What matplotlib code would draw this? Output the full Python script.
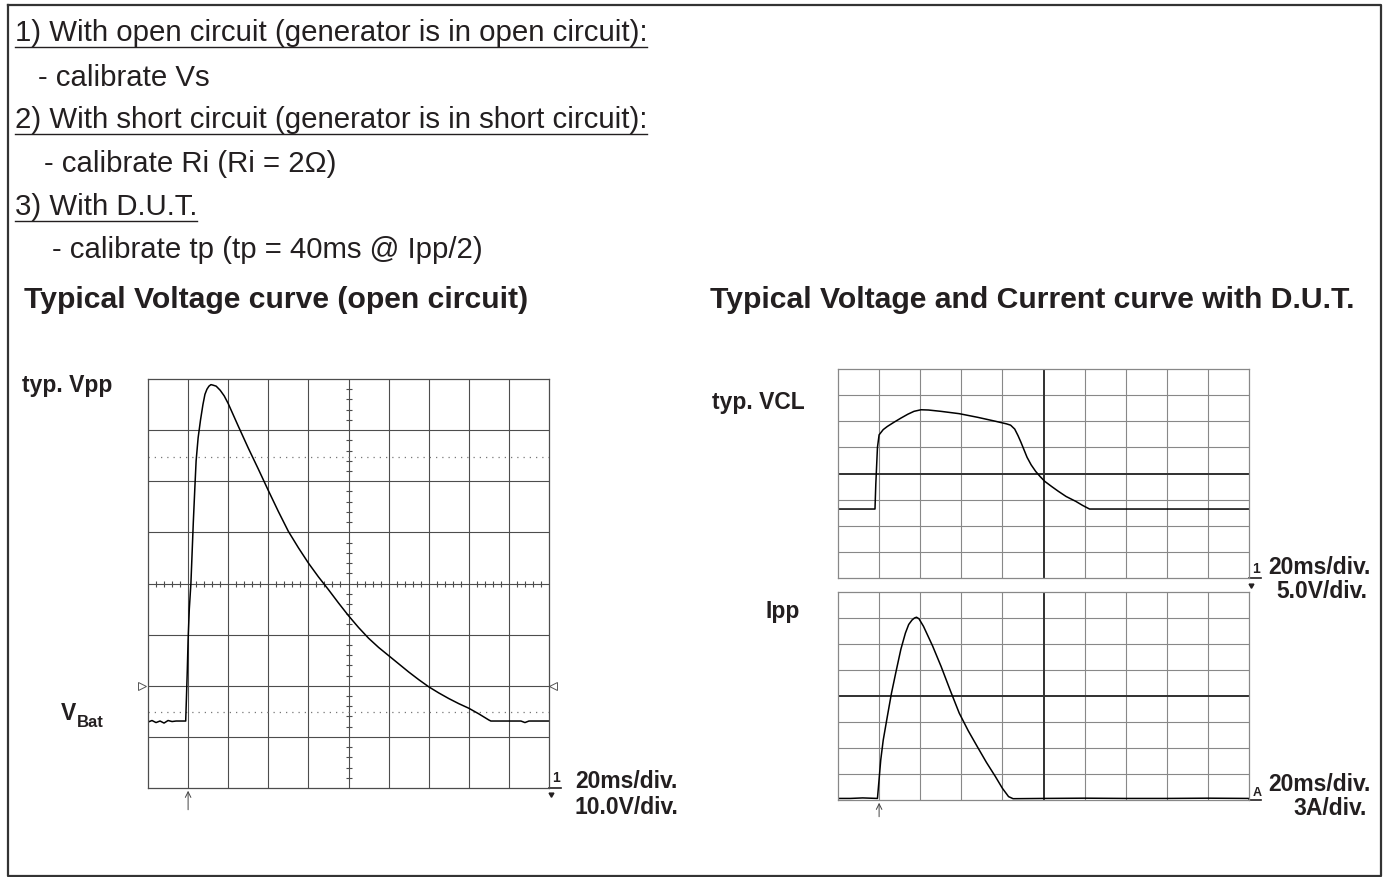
import matplotlib
matplotlib.use('Agg')
import matplotlib.pyplot as plt
import numpy as np

plt.rcParams['font.family'] = ['Liberation Sans', 'DejaVu Sans']

# open circuit voltage trace, x in divisions (20ms/div), y in divisions (10V/div)
vpp_t = [0, 0.1, 0.2, 0.3, 0.4, 0.5, 0.6, 0.7, 0.8, 0.94, 0.96, 0.98, 1.0, 1.03, 1.07,
         1.1, 1.13, 1.17, 1.2, 1.25, 1.31, 1.37, 1.42, 1.47, 1.52, 1.57, 1.62, 1.7, 1.8,
         1.9, 2.0, 2.25, 2.5, 2.75, 3.0, 3.25, 3.5, 3.75, 4.0, 4.25, 4.5, 4.75, 5.0, 5.25,
         5.5, 5.75, 6.0, 6.25, 6.5, 6.75, 7.0, 7.25, 7.5, 7.75, 8.0, 8.25, 8.5, 8.55,
         9.0, 9.3, 9.4, 9.5, 10]
vpp_v = [1.29, 1.32, 1.28, 1.31, 1.27, 1.32, 1.30, 1.31, 1.31, 1.31, 1.8, 2.3, 2.9, 3.5, 4.0,
         4.6, 5.2, 5.9, 6.4, 6.85, 7.2, 7.5, 7.7, 7.8, 7.86, 7.89, 7.88, 7.86, 7.78,
         7.67, 7.52, 7.08, 6.65, 6.24, 5.82, 5.41, 5.02, 4.7, 4.4, 4.13, 3.88, 3.62, 3.37, 3.14,
         2.93, 2.75, 2.59, 2.43, 2.27, 2.12, 1.98, 1.86, 1.75, 1.65, 1.56, 1.45, 1.33, 1.31,
         1.31, 1.31, 1.28, 1.31, 1.31]

# clamping voltage with D.U.T. (5V/div)
vcl_t = [0, 0.3, 0.6, 0.9, 0.92, 0.96, 1.0, 1.1, 1.2, 1.35, 1.53, 1.7, 1.85, 2.02, 2.2,
         2.5, 2.95, 3.4, 3.83, 4.1, 4.2, 4.3, 4.38, 4.45, 4.52, 4.6, 4.7, 4.81, 4.92,
         5.03, 5.2, 5.36, 5.55, 5.79, 5.95, 6.12, 7, 8, 9, 10]
vcl_v = [2.64, 2.64, 2.64, 2.64, 3.6, 5.0, 5.48, 5.68, 5.8, 5.95, 6.12, 6.27, 6.38, 6.44, 6.43,
         6.38, 6.29, 6.15, 6.0, 5.9, 5.85, 5.7, 5.45, 5.2, 4.93, 4.62, 4.33, 4.08, 3.88,
         3.7, 3.5, 3.32, 3.12, 2.93, 2.78, 2.64, 2.64, 2.64, 2.64, 2.64]

# current with D.U.T. (3A/div)
ipp_t = [0, 0.3, 0.6, 0.96, 1.0, 1.04, 1.1, 1.2, 1.3, 1.42, 1.53, 1.64, 1.72, 1.8, 1.86,
         1.91, 1.97, 2.08, 2.3, 2.51, 2.73, 2.95, 3.17, 3.39, 3.61, 3.83, 4.0, 4.15, 4.26,
         5, 6, 7, 8, 9, 10]
ipp_i = [0.06, 0.06, 0.08, 0.06, 0.8, 1.54, 2.3, 3.21, 4.1, 5.0, 5.8, 6.42, 6.75, 6.92, 7.0,
         7.03, 6.97, 6.68, 5.93, 5.13, 4.22, 3.34, 2.66, 2.05, 1.45, 0.9, 0.45, 0.13, 0.05,
         0.06, 0.07, 0.06, 0.06, 0.07, 0.06]

steps = ['1) With open circuit (generator is in open circuit):',
         '- calibrate Vs',
         '2) With short circuit (generator is in short circuit):',
         '- calibrate Ri (Ri = 2\u03a9)',
         '3) With D.U.T.',
         '- calibrate tp (tp = 40ms @ Ipp/2)']

ink = '#231f20'

fig = plt.figure(figsize=(13.88, 8.77), dpi=100)
bg = fig.add_axes([0, 0, 1, 1])
bg.set_xlim(0, 1388)
bg.set_ylim(877, 0)
bg.axis('off')

# frame
bg.plot([8, 1381, 1381, 8, 8], [5, 5, 876, 876, 5], color='#333333', lw=1.6)

# instructions
step_pos = [(15, 41, True), (38, 86, False), (15, 128, True),
            (44, 172, False), (15, 215, True), (52, 258, False)]
step_txt = []
for s, (x, y, ul) in zip(steps, step_pos):
    t = bg.text(x, y, s, fontsize=21.2, color=ink, va='baseline')
    step_txt.append((t, y, ul))

bg.text(24, 308, 'Typical Voltage curve (open circuit)', fontsize=21.7, weight='bold',
        color=ink, va='baseline')
bg.text(710, 308, 'Typical Voltage and Current curve with D.U.T.', fontsize=21.7,
        weight='bold', color=ink, va='baseline')

lab = dict(fontsize=16.5, weight='bold', color=ink, va='baseline')
bg.text(22, 392, 'typ. Vpp', **lab)
bg.text(61, 720, 'V', **lab)
bg.text(77, 727, 'Bat', fontsize=12, weight='bold', color=ink, va='baseline')
bg.text(575, 788, '20ms/div.', **lab)
bg.text(678, 814, '10.0V/div.', ha='right', **lab)
bg.text(712, 409, 'typ. VCL', **lab)
bg.text(800, 618, 'Ipp', ha='right', **lab)
bg.text(1268, 574, '20ms/div.', **lab)
bg.text(1367, 598, '5.0V/div.', ha='right', **lab)
bg.text(1268, 791, '20ms/div.', **lab)
bg.text(1367, 815, '3A/div.', ha='right', **lab)


def scope(rect, grid, center_lw, minor=False):
    ax = fig.add_axes(rect)
    ax.set_xlim(0, 10)
    ax.set_ylim(0, 8)
    ax.set_xticks([])
    ax.set_yticks([])
    for sp in ax.spines.values():
        sp.set_color(grid)
        sp.set_linewidth(0.9)
    for x in range(1, 10):
        ax.axvline(x, color=grid, lw=center_lw if x == 5 else 0.8)
    for y in range(1, 8):
        ax.axhline(y, color=grid, lw=center_lw if y == 4 else 0.8)
    if minor:
        xs = [v for v in np.arange(0.2, 10, 0.2) if abs(v - round(v)) > 0.05]
        ys = [v for v in np.arange(0.2, 8, 0.2) if abs(v - round(v)) > 0.05]
        ax.plot(xs, [4] * len(xs), ls='none', marker='|', ms=5, mew=0.8, color=grid)
        ax.plot([5] * len(ys), ys, ls='none', marker='_', ms=5, mew=0.8, color=grid)
    return ax


def trigger(ax, length, mark):
    ax.annotate('', xy=(1, 0), xytext=(1, -length), annotation_clip=False,
                arrowprops=dict(arrowstyle='->', lw=0.7, color='#444444'))
    ax.text(10.08, 0.12, mark, fontsize=10, weight='bold', color=ink,
            transform=ax.transData, clip_on=False)
    ax.plot([10, 10.3], [0, 0], color=ink, lw=1.2, clip_on=False)
    ax.plot([10.06], [-0.12], marker=(3, 0, 180), ms=4, color=ink, clip_on=False)


# left scope: open circuit voltage
ax1 = scope([148 / 1388, 89 / 877, 401 / 1388, 409 / 877], '#4d4d4d', 0.8, minor=True)
ax1.axhline(6.48, color='#777777', lw=0.9, ls=(0, (1, 4)))
ax1.axhline(1.48, color='#777777', lw=0.9, ls=(0, (1, 4)))
ax1.plot([-0.16], [2], marker='>', ms=6, mfc='white', mec='#555555', mew=0.7, clip_on=False)
ax1.plot([10.1], [2], marker='<', ms=6, mfc='white', mec='#555555', mew=0.7, clip_on=False)
ax1.plot(vpp_t, vpp_v, color='black', lw=1.1)
trigger(ax1, 0.48, '1')

# right top scope: voltage with D.U.T.
ax2 = scope([838 / 1388, 299 / 877, 411 / 1388, 209 / 877], '#888888', 1.4)
ax2.axvline(5, color='#333333', lw=1.4)
ax2.axhline(4, color='#333333', lw=1.4)
ax2.plot(vcl_t, vcl_v, color='black', lw=1.1)
ax2.plot([10, 10.3], [0, 0], color=ink, lw=1.2, clip_on=False)
ax2.text(10.08, 0.18, '1', fontsize=10, weight='bold', color=ink, clip_on=False)
ax2.plot([10.06], [-0.25], marker=(3, 0, 180), ms=4, color=ink, clip_on=False)

# right bottom scope: current with D.U.T.
ax3 = scope([838 / 1388, 77 / 877, 411 / 1388, 208 / 877], '#888888', 1.4)
ax3.axvline(5, color='#333333', lw=1.4)
ax3.axhline(4, color='#333333', lw=1.4)
ax3.plot(ipp_t, ipp_i, color='black', lw=1.1)
ax3.annotate('', xy=(1, 0), xytext=(1, -0.75), annotation_clip=False,
             arrowprops=dict(arrowstyle='->', lw=0.7, color='#444444'))
ax3.plot([10, 10.3], [0, 0], color=ink, lw=1.2, clip_on=False)
ax3.text(10.08, 0.15, 'A', fontsize=9, weight='bold', color=ink, clip_on=False)

# underline the numbered steps
fig.canvas.draw()
r = fig.canvas.get_renderer()
for t, y, ul in step_txt:
    if ul:
        bb = t.get_window_extent(r)
        bg.plot([bb.x0, bb.x1], [y + 6, y + 6], color=ink, lw=1.0)

fig.savefig('out.png', dpi=100)
